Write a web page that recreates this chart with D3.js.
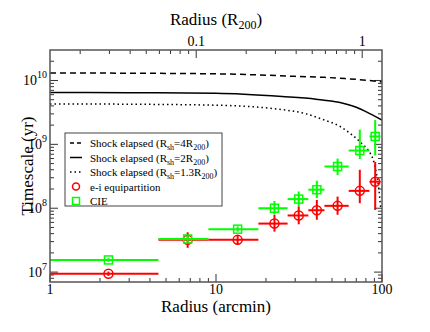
<!DOCTYPE html>
<html>
<head>
<meta charset="utf-8">
<script src="https://cdn.jsdelivr.net/npm/d3@7"></script>
<style>
body { margin: 0; background: #fff; }
</style>
</head>
<body>
<div id="chart"></div>
<script>
// radial bins (arcmin)
var binLo = [0, 4.5, 9, 18, 27, 36, 45, 63, 84]
var binHi = [4.5, 9, 18, 27, 36, 45, 63, 84, 98]
var binMid = [2.25, 6.75, 13.5, 22.5, 31.5, 40.5, 54, 73.5, 91]

// e-i equipartition timescale (yr)
var eiVal = [9.4e6, 3.2e7, 3.2e7, 5.75e7, 7.7e7, 9.3e7, 1.09e8, 1.87e8, 2.6e8]
var eiLo  = [8.7e6, 2.4e7, 2.7e7, 4.3e7, 5.6e7, 6.6e7, 7.9e7, 1.2e8, 9.4e7]
var eiHi  = [1.02e7, 4.2e7, 3.8e7, 7.9e7, 1.07e8, 1.35e8, 1.52e8, 4.0e8, 5.3e8]

// CIE timescale (yr)
var cieVal = [1.55e7, 3.3e7, 4.7e7, 1.0e8, 1.39e8, 1.95e8, 4.5e8, 8.0e8, 1.33e9]
var cieLo  = [1.45e7, 2.95e7, 4.3e7, 8.0e7, 1.07e8, 1.44e8, 3.3e8, 5.9e8, 6.7e8]
var cieHi  = [1.65e7, 3.7e7, 5.2e7, 1.3e8, 1.83e8, 2.7e8, 6.0e8, 1.7e9, 2.4e9]

// shock elapsed curves
var sh4R = [1, 3, 10, 20, 30, 45, 60, 80, 100]
var sh4T = [1.31e10, 1.30e10, 1.27e10, 1.21e10, 1.16e10, 1.12e10, 1.07e10, 1.01e10, 9.5e9]
var sh2R = [1, 3, 10, 25, 40, 55, 70, 85, 100]
var sh2T = [6.5e9, 6.45e9, 6.3e9, 5.6e9, 5.1e9, 4.55e9, 3.8e9, 3.0e9, 2.4e9]
var sh13R = [1, 3, 10, 25, 35, 45, 55, 65, 75, 85, 88, 92, 95.5, 98]
var sh13T = [4.3e9, 4.25e9, 4.1e9, 3.5e9, 3.0e9, 2.4e9, 1.95e9, 1.45e9, 1.05e9, 7.2e8, 6.0e8, 3.8e8, 2.1e8, 1.05e8]

var r200 = 76  // arcmin

var xMajor = [1, 10, 100]
var xMinor = [2, 3, 4, 5, 6, 7, 8, 9, 20, 30, 40, 50, 60, 70, 80, 90]
var topMajor = [0.1, 1]
var topMinor = [0.02, 0.03, 0.04, 0.05, 0.06, 0.07, 0.08, 0.09, 0.2, 0.3, 0.4, 0.5, 0.6, 0.7, 0.8, 0.9]
var yMajor = [1e7, 1e8, 1e9, 1e10]
var yExp = [7, 8, 9, 10]
var yMinor = [8e6, 9e6, 2e7, 3e7, 4e7, 5e7, 6e7, 7e7, 8e7, 9e7, 2e8, 3e8, 4e8, 5e8, 6e8, 7e8, 8e8, 9e8,
              2e9, 3e9, 4e9, 5e9, 6e9, 7e9, 8e9, 9e9, 2e10]

var width = 430, height = 332
var margin = {top: 50, right: 48, bottom: 50, left: 50}
var x0 = margin.left, x1 = width - margin.right
var y0 = margin.top, y1 = height - margin.bottom
var serif = "'Liberation Serif', 'DejaVu Serif', serif"

var x = d3.scaleLog().domain([1, 100]).range([x0, x1])
var xTop = d3.scaleLog().domain([1 / r200, 100 / r200]).range([x0, x1])
var y = d3.scaleLog().domain([7e6, 3e10]).range([y1, y0])

var svg = d3.select("#chart").append("svg")
	.attr("width", width)
	.attr("height", height)
	.attr("font-family", serif)
	.style("font-family", serif)

svg.append("defs").append("clipPath").attr("id", "clip")
	.append("rect").attr("x", x0).attr("y", y0).attr("width", x1 - x0).attr("height", y1 - y0)

// ticks (all pointing inward)
var ticks = svg.append("g").attr("stroke", "#333").attr("stroke-width", 1)

function vTicks(vals, scale, len) {
	ticks.selectAll(null).data(vals).enter().append("line")
		.attr("x1", d => scale(d)).attr("x2", d => scale(d))
		.attr("y1", y1).attr("y2", y1 - len)
}
function topTicks(vals, len) {
	ticks.selectAll(null).data(vals).enter().append("line")
		.attr("x1", d => xTop(d)).attr("x2", d => xTop(d))
		.attr("y1", y0).attr("y2", y0 + len)
}
function hTicks(vals, len) {
	ticks.selectAll(null).data(vals).enter().append("line")
		.attr("x1", x0).attr("x2", x0 + len)
		.attr("y1", d => y(d)).attr("y2", d => y(d))
	ticks.selectAll(null).data(vals).enter().append("line")
		.attr("x1", x1).attr("x2", x1 - len)
		.attr("y1", d => y(d)).attr("y2", d => y(d))
}
vTicks(xMajor, x, 8)
vTicks(xMinor, x, 4)
topTicks(topMajor, 8)
topTicks(topMinor, 4)
hTicks(yMajor, 8)
hTicks(yMinor, 4)

// tick labels
svg.append("g").selectAll("text").data(xMajor).enter().append("text")
	.attr("x", d => x(d)).attr("y", y1 + 12)
	.attr("text-anchor", "middle").style("font-size", "14px")
	.text(d => d)

svg.append("g").selectAll("text").data(topMajor).enter().append("text")
	.attr("x", d => xTop(d)).attr("y", y0 - 4)
	.attr("text-anchor", "middle").style("font-size", "14px")
	.text(d => d)

var yl = svg.append("g").selectAll("text").data(yMajor).enter().append("text")
	.attr("x", x0 - 3).attr("y", d => y(d) + 5)
	.attr("text-anchor", "end").style("font-size", "14px")
yl.append("tspan").text("10")
yl.append("tspan").attr("dy", -7).style("font-size", "10px").text((d, i) => yExp[i])

// axis titles
svg.append("text")
	.attr("x", (x0 + x1) / 2).attr("y", y1 + 30)
	.attr("text-anchor", "middle").style("font-size", "17px")
	.text("Radius (arcmin)")

var tt = svg.append("text")
	.attr("x", (x0 + x1) / 2).attr("y", 25)
	.attr("text-anchor", "middle").style("font-size", "17px")
tt.append("tspan").text("Radius (R")
tt.append("tspan").attr("dy", 4).style("font-size", "12px").text("200")
tt.append("tspan").attr("dy", -4).text(")")

svg.append("text")
	.attr("transform", "translate(33," + ((y0 + y1) / 2) + ") rotate(-90)")
	.attr("text-anchor", "middle").style("font-size", "17px")
	.text("Timescale (yr)")

// plot area
var plot = svg.append("g").attr("clip-path", "url(#clip)")

function curve(rs, ts, dash) {
	var pts = rs.map((r, i) => [r, ts[i]])
	plot.append("path")
		.datum(pts)
		.attr("fill", "none")
		.attr("stroke", "#000")
		.attr("stroke-width", 1.5)
		.attr("stroke-dasharray", dash)
		.attr("d", d3.line().x(d => x(d[0])).y(d => y(d[1])).curve(d3.curveMonotoneX))
}
curve(sh4R, sh4T, "6,4")
curve(sh2R, sh2T, null)
curve(sh13R, sh13T, "1.5,3")

function series(vals, lo, hi, color, shape) {
	var data = vals.map((v, i) => ({v: v, lo: lo[i], hi: hi[i], r: binMid[i], a: binLo[i], b: binHi[i]}))
	var g = plot.append("g").attr("stroke", color).attr("fill", "none")
	g.selectAll(".xe").data(data).enter().append("line")
		.attr("stroke-width", 2)
		.attr("x1", d => x(Math.max(d.a, 0.5))).attr("x2", d => x(d.b))
		.attr("y1", d => y(d.v)).attr("y2", d => y(d.v))
	g.selectAll(".ye").data(data).enter().append("line")
		.attr("stroke-width", 2)
		.attr("x1", d => x(d.r)).attr("x2", d => x(d.r))
		.attr("y1", d => y(d.lo)).attr("y2", d => y(d.hi))
	if (shape == "circle") {
		g.selectAll("circle").data(data).enter().append("circle")
			.attr("stroke-width", 1.5)
			.attr("cx", d => x(d.r)).attr("cy", d => y(d.v)).attr("r", 4.5)
	} else {
		g.selectAll("rect").data(data).enter().append("rect")
			.attr("stroke-width", 1.5)
			.attr("x", d => x(d.r) - 4).attr("y", d => y(d.v) - 4)
			.attr("width", 8).attr("height", 8)
	}
}
series(eiVal, eiLo, eiHi, "#ff0000", "circle")
series(cieVal, cieLo, cieHi, "#00ff00", "square")

// frame
svg.append("rect")
	.attr("x", x0).attr("y", y0).attr("width", x1 - x0).attr("height", y1 - y0)
	.attr("fill", "none").attr("stroke", "#555").attr("stroke-width", 1.5)

// legend
var legend = svg.append("g")
legend.append("rect")
	.attr("x", 65).attr("y", 133).attr("width", 157).attr("height", 73)
	.attr("fill", "#fff").attr("stroke", "#444").attr("stroke-width", 1)

var legItems = [
	{kind: "line", dash: "4,3", label: ["Shock elapsed (R", "sh", "=4R", "200", ")"]},
	{kind: "line", dash: null, label: ["Shock elapsed (R", "sh", "=2R", "200", ")"]},
	{kind: "line", dash: "1.5,3", label: ["Shock elapsed (R", "sh", "=1.3R", "200", ")"]},
	{kind: "circle", label: ["e-i equipartition"]},
	{kind: "square", label: ["CIE"]}
]

legItems.forEach(function(d, i) {
	var ly = 143 + i * 14.5
	if (d.kind == "line") {
		legend.append("line")
			.attr("x1", 70).attr("x2", 82).attr("y1", ly).attr("y2", ly)
			.attr("stroke", "#000").attr("stroke-width", 1.5)
			.attr("stroke-dasharray", d.dash)
	} else if (d.kind == "circle") {
		legend.append("circle").attr("cx", 76).attr("cy", ly).attr("r", 3.5)
			.attr("fill", "none").attr("stroke", "#ff0000").attr("stroke-width", 1.5)
	} else {
		legend.append("rect").attr("x", 72.5).attr("y", ly - 3.5).attr("width", 7).attr("height", 7)
			.attr("fill", "none").attr("stroke", "#00ff00").attr("stroke-width", 1.5)
	}
	var t = legend.append("text").attr("x", 90).attr("y", ly + 4).style("font-size", "11px")
	d.label.forEach(function(s, j) {
		var sp = t.append("tspan").text(s)
		if (j % 2 == 1) sp.attr("dy", 3).style("font-size", "8px")
		else if (j > 0) sp.attr("dy", -3)
	})
})
</script>
</body>
</html>
